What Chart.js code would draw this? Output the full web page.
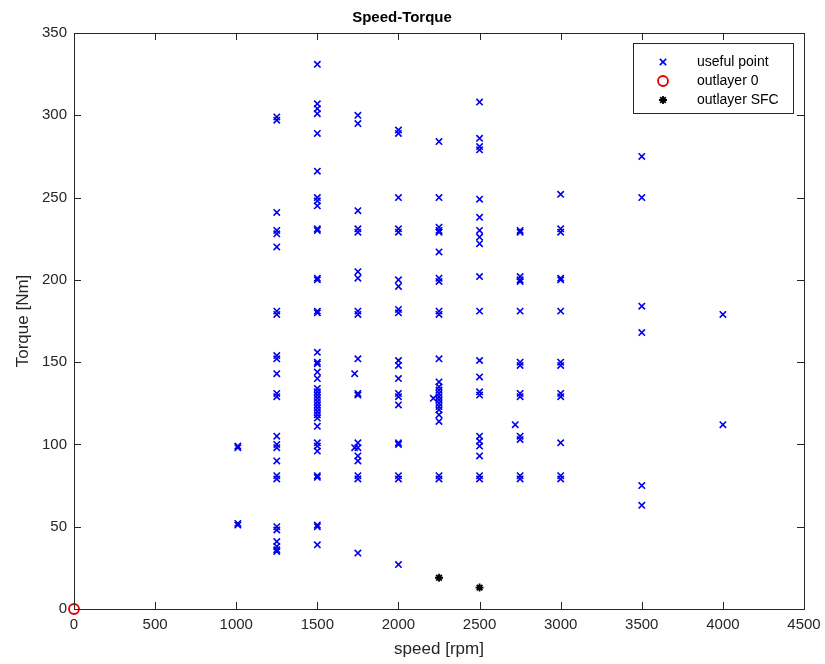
<!DOCTYPE html>
<html>
<head>
<meta charset="utf-8">
<script src="https://cdn.jsdelivr.net/npm/chart.js@4.4.0/dist/chart.umd.min.js"></script>
<style>
  html, body { margin: 0; padding: 0; background: #fff; }
</style>
</head>
<body>
<canvas id="speedTorque" width="825" height="664"></canvas>
<script>
// torque readings [Nm], grouped by speed column [rpm]
const speedCols = [1010, 1250, 1500, 1730, 1750, 2000, 2215, 2250, 2500, 2720, 2750, 3000, 3500, 4000];
const torque1010 = [99, 98, 52, 51];
const torque1250 = [299, 297, 241, 230, 228, 220, 181, 179, 154, 152, 143, 131, 129, 105, 100, 98, 90, 81, 79, 50, 48, 41, 38, 36, 35];
const torque1500 = [331, 307, 304, 301, 289, 266, 250, 248, 245, 231, 230, 201, 200, 181, 180, 156, 150, 149, 144, 140, 134, 132, 130, 128, 126, 124, 122, 120, 118, 116, 111, 101, 99, 96, 81, 80, 51, 50, 39];
const torque1730 = [143, 98];
const torque1750 = [300, 295, 242, 231, 229, 205, 201, 181, 179, 152, 131, 130, 101, 98, 93, 90, 81, 79, 34];
const torque2000 = [291, 289, 250, 231, 229, 200, 196, 182, 180, 151, 148, 140, 131, 129, 124, 101, 100, 81, 79, 27];
const torque2215 = [128];
const torque2250 = [284, 250, 232, 230, 229, 217, 201, 199, 181, 179, 152, 138, 135, 133, 131, 129, 127, 125, 123, 121, 118, 114, 81, 79];
const torque2500 = [308, 286, 281, 279, 249, 238, 230, 226, 222, 202, 181, 151, 141, 132, 130, 105, 102, 99, 93, 81, 79];
const torque2720 = [112];
const torque2750 = [230, 229, 202, 200, 199, 181, 150, 148, 131, 129, 105, 103, 81, 79];
const torque3000 = [252, 231, 229, 201, 200, 181, 150, 148, 131, 129, 101, 81, 79];
const torque3500 = [275, 250, 184, 168, 75, 63];
const torque4000 = [179, 112];
const usefulTorque = [torque1010, torque1250, torque1500, torque1730, torque1750, torque2000, torque2215,
                      torque2250, torque2500, torque2720, torque2750, torque3000, torque3500, torque4000];

// outliers
const zeroSpeed = [0];
const zeroTorque = [0];
const sfcSpeed = [2250, 2500];
const sfcTorque = [19, 13];

const xTicks = [0, 500, 1000, 1500, 2000, 2500, 3000, 3500, 4000, 4500];
const yTicks = [0, 50, 100, 150, 200, 250, 300, 350];

var usefulPts = [];
speedCols.forEach(function (s, i) {
    usefulTorque[i].forEach(function (t) { usefulPts.push({x: s, y: t}); });
});
var zeroPts = zeroSpeed.map(function (s, i) { return {x: s, y: zeroTorque[i]}; });
var sfcPts = sfcSpeed.map(function (s, i) { return {x: s, y: sfcTorque[i]}; });

var axisColor = '#262626';
var fontFam = '"Liberation Sans", Arial, Helvetica, sans-serif';

// MATLAB style box with inward ticks on all four sides
var boxPlugin = {
    id: 'matlabBox',
    afterDatasetsDraw: function (chart) {
        var ctx = chart.ctx, a = chart.chartArea, xs = chart.scales.x, ys = chart.scales.y;
        var len = 7;
        ctx.save();
        ctx.strokeStyle = axisColor;
        ctx.lineWidth = 1;
        ctx.strokeRect(a.left + 0.5, a.top + 0.5, a.right - a.left, a.bottom - a.top);
        ctx.beginPath();
        xTicks.forEach(function (v) {
            var px = Math.round(xs.getPixelForValue(v)) + 0.5;
            ctx.moveTo(px, a.bottom); ctx.lineTo(px, a.bottom - len);
            ctx.moveTo(px, a.top); ctx.lineTo(px, a.top + len);
        });
        yTicks.forEach(function (v) {
            var py = Math.round(ys.getPixelForValue(v)) + 0.5;
            ctx.moveTo(a.left, py); ctx.lineTo(a.left + len, py);
            ctx.moveTo(a.right, py); ctx.lineTo(a.right - len, py);
        });
        ctx.stroke();
        ctx.restore();
    }
};

// legend inside the axes, top right, with a frame
var legendPlugin = {
    id: 'boxLegend',
    afterDraw: function (chart) {
        var ctx = chart.ctx, a = chart.chartArea;
        var w = 160, h = 70;
        var left = a.right - 11 - w, top = a.top + 10;
        ctx.save();
        ctx.fillStyle = '#fff';
        ctx.fillRect(left, top, w, h);
        ctx.strokeStyle = axisColor;
        ctx.lineWidth = 1;
        ctx.strokeRect(left + 0.5, top + 0.5, w, h);
        chart.data.datasets.forEach(function (ds, i) {
            var y = top + 19 + i * 19;
            ctx.strokeStyle = ds.pointBorderColor;
            ctx.fillStyle = ds.pointBackgroundColor;
            ctx.lineWidth = ds.pointBorderWidth;
            Chart.helpers.drawPoint(ctx, {
                pointStyle: ds.pointStyle, radius: ds.pointRadius,
                borderWidth: ds.pointBorderWidth, rotation: 0
            }, left + 30, y);
            ctx.fillStyle = '#000';
            ctx.font = '14px ' + fontFam;
            ctx.textBaseline = 'middle';
            ctx.textAlign = 'left';
            ctx.fillText(ds.label, left + 64, y);
        });
        ctx.restore();
    }
};

var ctx = document.getElementById('speedTorque').getContext('2d');
var scatter = new Chart(ctx, {
    type: 'scatter',
    data: {
        datasets: [
            {
                label: 'useful point',
                data: usefulPts,
                pointStyle: 'crossRot',
                pointRadius: 4.5,
                pointBorderWidth: 1.6,
                pointBorderColor: '#0000ee',
                pointBackgroundColor: '#0000ee',
                pointHoverRadius: 4.5
            },
            {
                label: 'outlayer 0',
                data: zeroPts,
                pointStyle: 'circle',
                pointRadius: 5,
                pointBorderWidth: 1.8,
                pointBorderColor: '#e00000',
                pointBackgroundColor: 'rgba(0,0,0,0)',
                clip: false
            },
            {
                label: 'outlayer SFC',
                data: sfcPts,
                pointStyle: 'star',
                pointRadius: 4,
                pointBorderWidth: 1.8,
                pointBorderColor: '#000',
                pointBackgroundColor: '#000'
            }
        ]
    },
    options: {
        responsive: false,
        animation: false,
        devicePixelRatio: 1,
        layout: { padding: { left: 0, right: 21, top: 0, bottom: 0 } },
        plugins: {
            legend: { display: false },
            tooltip: { enabled: false },
            title: {
                display: true,
                text: 'Speed-Torque',
                color: '#000',
                font: { family: fontFam, size: 15, weight: 'bold' },
                padding: { top: 9, bottom: 6 }
            }
        },
        scales: {
            x: {
                type: 'linear',
                min: 0,
                max: 4500,
                afterBuildTicks: function (s) { s.ticks = xTicks.map(function (v) { return {value: v}; }); },
                afterFit: function (s) { s.height = 55; s.paddingRight = 0; s.paddingLeft = 0; },
                ticks: {
                    color: axisColor, font: { family: fontFam, size: 15 }, padding: 7, maxRotation: 0,
                    callback: function (v) { return String(v); }
                },
                grid: { drawOnChartArea: false, drawTicks: false },
                border: { display: false },
                title: {
                    display: true,
                    text: 'speed [rpm]',
                    color: axisColor,
                    font: { family: fontFam, size: 17 },
                    padding: { top: 0, bottom: 4 }
                }
            },
            y: {
                type: 'linear',
                min: 0,
                max: 350,
                afterBuildTicks: function (s) { s.ticks = yTicks.map(function (v) { return {value: v}; }); },
                afterFit: function (s) { s.width = 74; },
                ticks: {
                    color: axisColor, font: { family: fontFam, size: 15 }, padding: 7,
                    callback: function (v) { return String(v); }
                },
                grid: { drawOnChartArea: false, drawTicks: false },
                border: { display: false },
                title: {
                    display: true,
                    text: 'Torque [Nm]',
                    color: axisColor,
                    font: { family: fontFam, size: 17 },
                    padding: { top: 13, bottom: 0 }
                }
            }
        }
    },
    plugins: [boxPlugin, legendPlugin]
});
</script>
</body>
</html>
